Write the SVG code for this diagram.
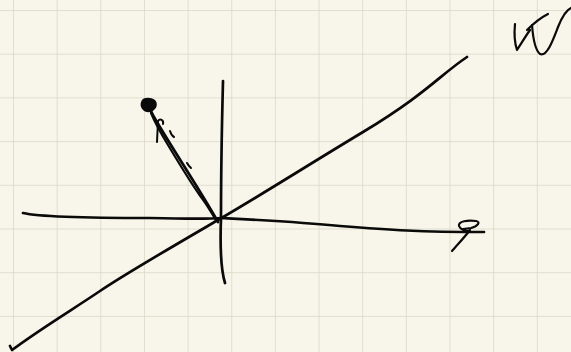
<svg xmlns="http://www.w3.org/2000/svg" width="571" height="352" viewBox="0 0 571 352">
<defs>
<style>
.grid{stroke:#d9d6c8;stroke-width:1.5;fill:none}
.ink{stroke:#0a0a0a;fill:none;stroke-linecap:round;stroke-linejoin:round}
.w3{stroke-width:2.7}
.w2{stroke-width:2.2}
.w15{stroke-width:2}
</style>
<pattern id="g" x="13" y="10" width="43.65" height="43.7" patternUnits="userSpaceOnUse">
<path class="grid" d="M0,0 V43.7 M0,0 H43.65"/>
</pattern>
</defs>
<rect width="571" height="352" fill="#f8f6ea"/>
<rect width="571" height="352" fill="url(#g)"/>
<g id="axes">
<path class="ink w3" d="M23,213 C40,217 80,218 150,218 C190,219 210,219 222,218 C260,220 300,222 340,226 C390,230 420,232 484,232"/>
<path class="ink w3" d="M223,81 C222,120 221,170 221,218 C220,245 221,270 225,283"/>
<path class="ink w3" d="M10,346 L12,350 C40,329 75,308 100,291 S170,248 218,220 S300,170 363,132 S440,75 467,57"/>
</g>
<g id="vector">
<path fill="#0a0a0a" d="M142,100 C144,97 151,97 155,100 C158,103 157,108 154,110 C151,113 146,113 143,110 C140,107 140,103 142,100 Z"/>
<path class="ink w3" d="M147,104 C150,109 152,113 154,117 C170,145 200,190 218,222"/>
<path class="ink w2" d="M151,113 C156,125 162,135 168,145 C180,165 193,186 201,197 C208,206 212,214 216,220"/>
<path class="ink w15" d="M157,142 L158,121 C160,118 164,120 163,124"/>
<path class="ink w15" d="M170,131 C171,134 172,136 174,137"/>
<path class="ink w15" d="M187,163 C188,165 189,166 191,168"/>
<path class="ink w15" d="M199,194 L202,197"/>
</g>
<g id="label-x">
<path class="ink w2" d="M470,231 C466,232 460,229 459,226 C458,221 468,220 476,221 C481,222 478,226 471,228 L463,229 M470,230 C464,238 457,245 452,251"/>
</g>
<g id="label-v">
<path class="ink w2" d="M515,24 C514,34 515,44 517,50 C521,44 525,37 530,30 M527,30 C533,24 540,18 548,14"/>
<path class="ink w2" d="M532,25 C533,38 535,50 540,54 C547,57 553,40 558,27 C562,17 566,10 571,8"/>
</g>
</svg>
